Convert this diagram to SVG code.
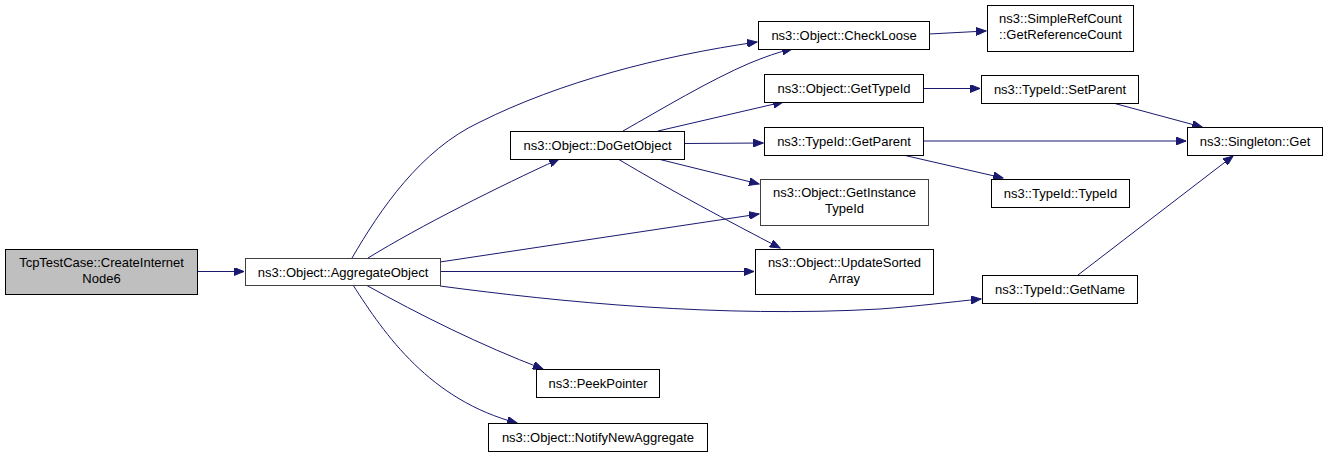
<svg xmlns="http://www.w3.org/2000/svg" width="1328" height="457" viewBox="0 0 1328 457">
<style>
  rect.n { fill: #ffffff; stroke: #000000; stroke-width: 1; }
  rect.g { fill: #ffffff; stroke: #404040; stroke-width: 1; }
  rect.root { fill: #bfbfbf; stroke: #000000; stroke-width: 1; }
  text { font-family: "Liberation Sans", Arial, sans-serif; font-size: 13px; fill: #000000; text-anchor: middle; }
  #edges path { fill: none; stroke: #191970; stroke-width: 1; marker-end: url(#arr); }
</style>
<defs>
  <marker id="arr" markerWidth="11" markerHeight="8" refX="10" refY="4" orient="auto" markerUnits="userSpaceOnUse">
    <path d="M0,0 L10,4 L0,8 Z" fill="#191970" stroke="#191970" stroke-width="1"/>
  </marker>
</defs>
<rect x="0" y="0" width="1328" height="457" fill="#ffffff"/>
<g id="edges">
  <path d="M198,271.5 L244,271.5"/>
  <path d="M352,258 C 380,210 420,150 480,122 C 560,82 660,56 757,42"/>
  <path d="M368,258 C 420,226 500,186 559,159"/>
  <path d="M440,262 L759,214"/>
  <path d="M440,271.5 L754,271.5"/>
  <path d="M440,286 C 560,302 720,318 880,309 C 920,306 950,302 981,299"/>
  <path d="M366,285 C 420,315 480,345 543,369"/>
  <path d="M353,285 C 385,335 430,400 517,423"/>
  <path d="M623,131 C 660,110 710,80 750,63 C 765,57 778,52 792,49"/>
  <path d="M658,131 L783,102"/>
  <path d="M684,143.5 L763,143"/>
  <path d="M658,159 L759,184"/>
  <path d="M618,159 C 670,190 730,222 780,248"/>
  <path d="M929,34 L986,31"/>
  <path d="M923,88.5 L980,88.5"/>
  <path d="M923,141 L1186,141"/>
  <path d="M903,155 L1003,178"/>
  <path d="M1113,103 L1202,127"/>
  <path d="M1078,275 L1233,156"/>
</g>
<g id="node-create">
  <rect class="root" x="5.5" y="249.5" width="192" height="45"/>
  <text x="101.5" y="267">TcpTestCase::CreateInternet</text>
  <text x="101.5" y="283">Node6</text>
</g>
<g id="node-aggregate">
  <rect class="g" x="245.5" y="258.5" width="195" height="27"/>
  <text x="343" y="276.5">ns3::Object::AggregateObject</text>
</g>
<g id="node-dogetobject">
  <rect class="n" x="510.5" y="131.5" width="174" height="28"/>
  <text x="597.5" y="150">ns3::Object::DoGetObject</text>
</g>
<g id="node-checkloose">
  <rect class="n" x="758.5" y="21.5" width="171" height="28"/>
  <text x="844" y="40">ns3::Object::CheckLoose</text>
</g>
<g id="node-gettypeid">
  <rect class="n" x="764.5" y="74.5" width="159" height="28"/>
  <text x="844" y="93">ns3::Object::GetTypeId</text>
</g>
<g id="node-getparent">
  <rect class="n" x="764.5" y="127.5" width="159" height="28"/>
  <text x="844" y="146">ns3::TypeId::GetParent</text>
</g>
<g id="node-getinstancetypeid">
  <rect class="g" x="760.5" y="179.5" width="168" height="46"/>
  <text x="844.5" y="197">ns3::Object::GetInstance</text>
  <text x="844.5" y="213">TypeId</text>
</g>
<g id="node-updatesortedarray">
  <rect class="n" x="755.5" y="249.5" width="178" height="45"/>
  <text x="844.5" y="267">ns3::Object::UpdateSorted</text>
  <text x="844.5" y="283">Array</text>
</g>
<g id="node-peekpointer">
  <rect class="n" x="536.5" y="369.5" width="123" height="28"/>
  <text x="598" y="388">ns3::PeekPointer</text>
</g>
<g id="node-notifynewaggregate">
  <rect class="n" x="488.5" y="423.5" width="219" height="28"/>
  <text x="598" y="442">ns3::Object::NotifyNewAggregate</text>
</g>
<g id="node-getreferencecount">
  <rect class="n" x="987.5" y="5.5" width="146" height="46"/>
  <text x="1060.5" y="23">ns3::SimpleRefCount</text>
  <text x="1060.5" y="39">::GetReferenceCount</text>
</g>
<g id="node-setparent">
  <rect class="n" x="981.5" y="75.5" width="157" height="28"/>
  <text x="1060" y="94">ns3::TypeId::SetParent</text>
</g>
<g id="node-typeid">
  <rect class="n" x="991.5" y="179.5" width="138" height="28"/>
  <text x="1060.5" y="198">ns3::TypeId::TypeId</text>
</g>
<g id="node-getname">
  <rect class="n" x="982.5" y="275.5" width="155" height="28"/>
  <text x="1060" y="294">ns3::TypeId::GetName</text>
</g>
<g id="node-singletonget">
  <rect class="n" x="1187.5" y="127.5" width="135" height="28"/>
  <text x="1255" y="146">ns3::Singleton::Get</text>
</g>
</svg>
